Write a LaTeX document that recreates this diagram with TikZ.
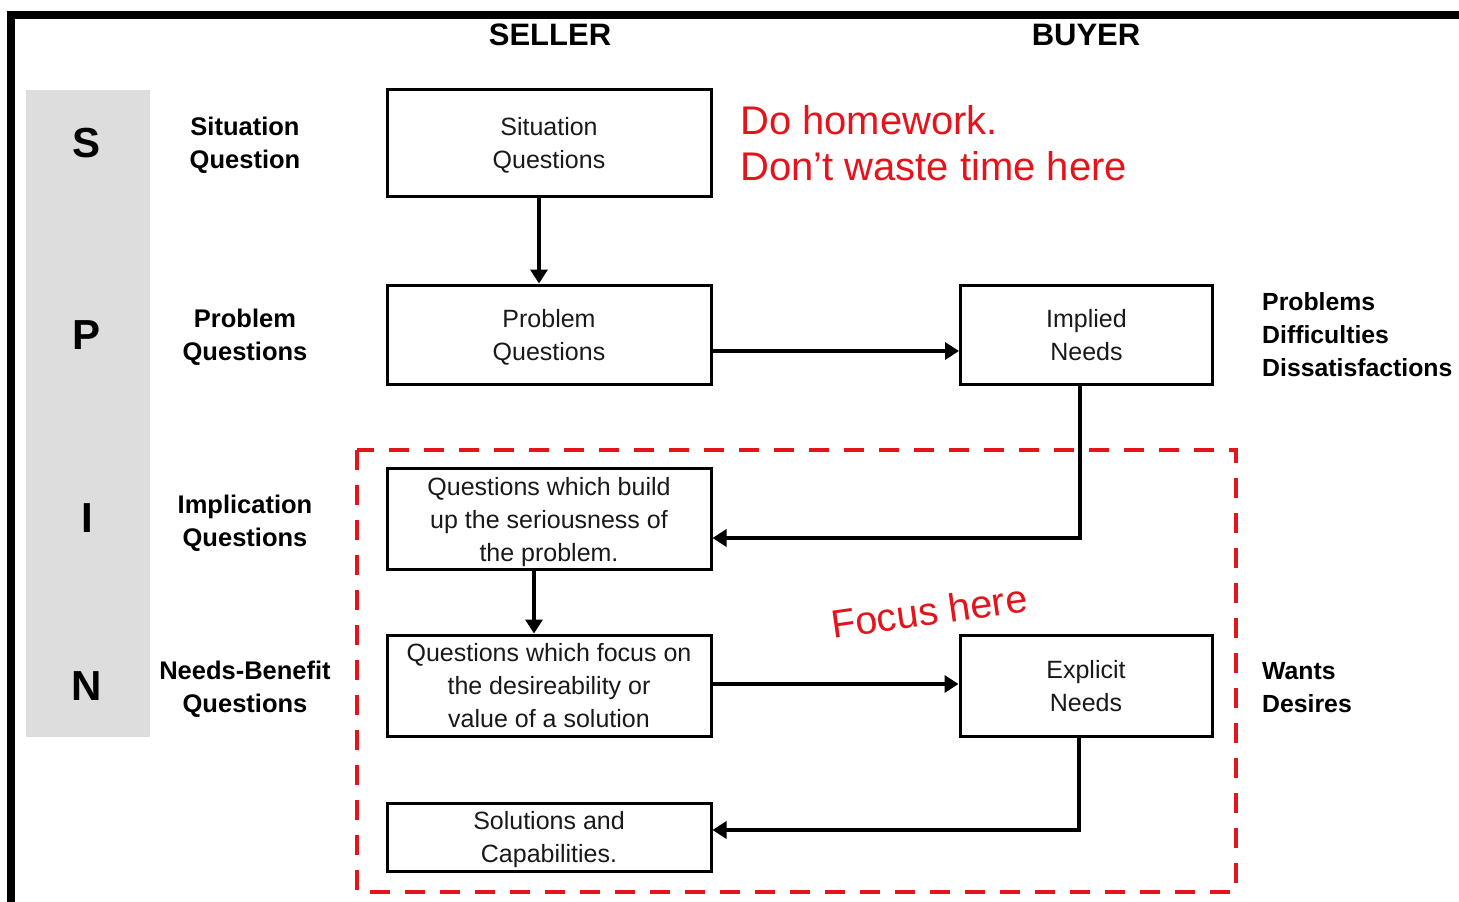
\documentclass[tikz,border=0pt]{standalone}
\usepackage{fontspec}
\setmainfont{Liberation Sans}
\usetikzlibrary{arrows.meta}
\definecolor{spinred}{RGB}{228,20,28}
\definecolor{bandgray}{RGB}{221,221,221}
\definecolor{ink}{RGB}{25,25,25}
\begin{document}
\begin{tikzpicture}[x=1pt,y=-1pt,
  stepbox/.style={draw, line width=3pt, minimum width=324pt, inner sep=0pt},
  needbox/.style={stepbox, minimum width=252pt},
  boxtext/.style={align=center, inner sep=0pt, text=ink, font=\fontsize{25}{33}\selectfont},
  sidelabel/.style={inner sep=0pt, font=\bfseries\fontsize{25.5}{33}\selectfont},
  buyerlabel/.style={sidelabel, align=left, anchor=west, font=\bfseries\fontsize{24.8}{33}\selectfont},
  letter/.style={inner sep=0pt, font=\bfseries\fontsize{42}{42}\selectfont},
  header/.style={inner sep=0pt, font=\bfseries\fontsize{31}{31}\selectfont},
  note/.style={inner sep=0pt, text=spinred},
  arr/.style={line width=4pt, line join=miter, -{Triangle[length=14pt,width=17pt]}}]

\useasboundingbox (0,0) rectangle (1459,902);

% frame along the top and left edges
\draw[line width=8pt, line join=miter] (11,902) -- (11,15) -- (1459,15);

% grey SPIN band
\fill[bandgray] (26,90) rectangle (150,737);
\node[letter] (lS) at (87,143) {S};
\node[letter] (lP) at (87,335) {P};
\node[letter] (lI) at (87,518) {I};
\node[letter] (lN) at (87,686) {N};

% column headers
\node[header] (seller) at (550,35) {SELLER};
\node[header] (buyer) at (1086,35) {BUYER};

% question types
\node[sidelabel, align=center] (qs) at (245,145.5) {Situation\\Question};
\node[sidelabel, align=center] (qp) at (245,337) {Problem\\Questions};
\node[sidelabel, align=center] (qi) at (245,523.5) {Implication\\Questions};
\node[sidelabel, align=center] (qn) at (245,689.5) {Needs-Benefit\\Questions};

% buyer side descriptions
\node[buyerlabel] (bp) at (1262,335) {Problems\\Difficulties\\Dissatisfactions};
\node[buyerlabel] (bw) at (1262,687.5) {Wants\\Desires};

% focus area
\draw[spinred, line width=4pt, dash pattern=on 20pt off 15pt]
  (357,450) rectangle (1236,892);

% seller steps
\node[stepbox, minimum height=107pt] (sit) at (549,142.5) {};
\node[stepbox, minimum height=99pt] (prob) at (549,334.5) {};
\node[stepbox, minimum height=101pt] (impq) at (549,518.5) {};
\node[stepbox, minimum height=101pt] (nbq) at (549,685.5) {};
\node[stepbox, minimum height=68pt] (sol) at (549,837) {};

% buyer needs
\node[needbox, minimum height=99pt] (implied) at (1086.5,334.5) {};
\node[needbox, minimum height=101pt] (explicit) at (1086,685.5) {};

% box texts
\node[boxtext] (sitT) at ([yshift=-3pt]sit.center) {Situation\\Questions};
\node[boxtext] (probT) at ([yshift=-2.5pt]prob.center) {Problem\\Questions};
\node[boxtext] (impqT) at ([yshift=-3.5pt]impq.center)
  {Questions which build\\up the seriousness of\\the problem.};
\node[boxtext] (nbqT) at ([yshift=-0.5pt]nbq.center)
  {Questions which focus on\\the desireability or\\value of a solution};
\node[boxtext] (solT) at ([yshift=-3pt]sol.center) {Solutions and\\Capabilities.};
\node[boxtext] (impliedT) at ([yshift=-0.5pt]implied.center) {Implied\\Needs};
\node[boxtext] (explicitT) at ([yshift=-1pt]explicit.center) {Explicit\\Needs};

% flow
\draw[arr] ([xshift=-10pt]sit.south) -- ([xshift=-10pt]prob.north);
\draw[arr] ([yshift=-16.5pt]prob.east) -- ([yshift=-16.5pt]implied.west);
\draw[arr] ([xshift=-6.5pt]implied.south) |- ([yshift=-19.5pt]impq.east);
\draw[arr] ([xshift=-15pt]impq.south) -- ([xshift=-15pt]nbq.north);
\draw[arr] ([yshift=1.5pt]nbq.east) -- ([yshift=1.5pt]explicit.west);
\draw[arr] ([xshift=-7pt]explicit.south) |- ([yshift=7pt]sol.east);

% remarks
\node[note, align=left, anchor=west, font=\fontsize{40}{46}\selectfont] (homework)
  at (740,143) {Do homework.\\Don’t waste time here};
\node[note, rotate=8, font=\fontsize{39.5}{40}\selectfont] (focus) at (929,611) {Focus here};

\end{tikzpicture}
\end{document}
